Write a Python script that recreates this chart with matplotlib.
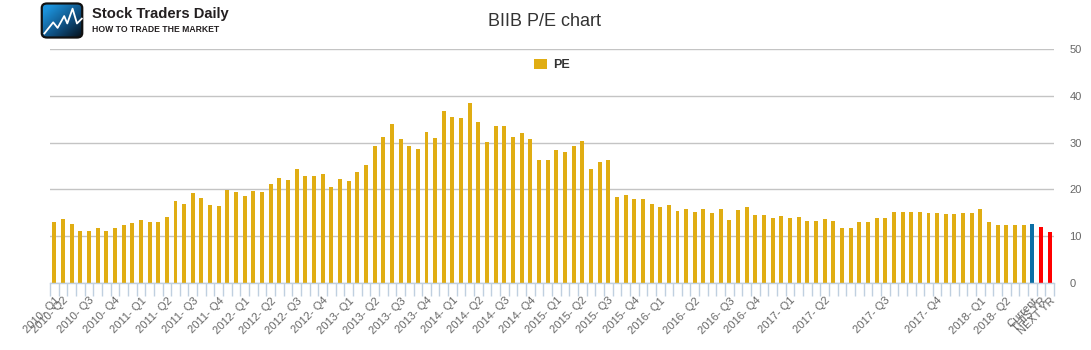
import numpy as np
import matplotlib
matplotlib.use('Agg')
from matplotlib import pyplot as plt
from matplotlib.patches import FancyBboxPatch
from matplotlib.colors import LinearSegmentedColormap

plt.rcParams['font.family'] = ['Liberation Sans', 'DejaVu Sans']

# PE history, one bar per month
pe = [13.0, 13.7, 12.6, 11.1, 11.1, 11.8, 11.1, 11.8, 12.4, 12.8,
      13.5, 13.0, 13.0, 14.1, 17.5, 16.9, 19.2, 18.2, 16.7, 16.5,
      19.9, 19.4, 18.6, 19.6, 19.4, 21.1, 22.4, 22.0, 24.3, 22.8,
      22.8, 23.3, 20.5, 22.2, 21.8, 23.7, 25.2, 29.2, 31.3, 33.9,
      30.7, 29.2, 28.6, 32.2, 30.9, 36.7, 35.4, 35.2, 38.4, 34.5,
      30.1, 33.5, 33.5, 31.3, 32.0, 30.7, 26.2, 26.2, 28.4, 27.9,
      29.2, 30.3, 24.3, 25.8, 26.2, 18.4, 18.8, 17.9, 17.9, 16.9,
      16.2, 16.7, 15.4, 15.8, 15.2, 15.8, 15.0, 15.8, 13.5, 15.6,
      16.2, 14.5, 14.5, 13.9, 14.3, 13.9, 14.1, 13.3, 13.3, 13.7,
      13.3, 11.8, 11.8, 13.0, 13.0, 13.9, 13.9, 15.2, 15.2, 15.2,
      15.2, 15.0, 15.0, 14.8, 14.8, 15.0, 15.0, 15.8, 13.0, 12.4,
      12.4, 12.4, 12.4]
current_pe = [12.6]
forward_pe = [12.0, 10.9]   # THIS YR, NEXT YR

# bar index (0 based) -> label
tick_idx = [0, 1, 4, 7, 10, 13, 16, 19, 22, 25, 28, 31, 34, 37, 40, 43, 46,
            49, 52, 55, 58, 61, 64, 67, 70, 74, 78, 81, 85, 89, 96, 102, 107,
            110, 113, 114, 115]
tick_text = ['2010- Q1', '2010- Q2', '2010- Q3', '2010- Q4',
             '2011- Q1', '2011- Q2', '2011- Q3', '2011- Q4',
             '2012- Q1', '2012- Q2', '2012- Q3', '2012- Q4',
             '2013- Q1', '2013- Q2', '2013- Q3', '2013- Q4',
             '2014- Q1', '2014- Q2', '2014- Q3', '2014- Q4',
             '2015- Q1', '2015- Q2', '2015- Q3', '2015- Q4',
             '2016- Q1', '2016- Q2', '2016- Q3', '2016- Q4',
             '2017- Q1', '2017- Q2', '2017- Q3', '2017- Q4',
             '2018- Q1', '2018- Q2', 'Current', 'THIS YR', 'NEXT YR']

gold = '#e0ad13'
blue = '#0b6fa6'
red = '#ff0000'
grey = '#666666'

values = pe + current_pe + forward_pe
colors = [gold] * len(pe) + [blue] * len(current_pe) + [red] * len(forward_pe)
n = len(values)
x = np.arange(n)

fig = plt.figure(figsize=(10.91, 3.5), dpi=100)
ax = fig.add_axes([50 / 1091, 67 / 350, 1004 / 1091, 234 / 350])

ax.bar(x, values, width=0.46, color=colors, zorder=2)
ax.bar([0], [0], color=gold, label='PE')  # legend handle only

ax.set_xlim(-0.5, n - 0.5)
ax.set_ylim(0, 50)
ax.set_yticks([0, 10, 20, 30, 40, 50])
ax.yaxis.tick_right()
ax.tick_params(axis='y', length=0, pad=11, labelsize=8, labelcolor=grey)
ax.grid(axis='y', color='#c4c4c4', linewidth=1, zorder=0)
ax.set_axisbelow(True)

ax.set_xticks(tick_idx)
ax.set_xticklabels(tick_text, rotation=45, ha='right', va='top',
                   rotation_mode='anchor', fontsize=8, color=grey)
ax.tick_params(axis='x', which='major', length=0, pad=9)
ax.set_xticks(np.arange(-0.5, n), minor=True)
ax.tick_params(axis='x', which='minor', length=9, width=1, color='#c0d0e0')

for s in ['top', 'left', 'right']:
    ax.spines[s].set_visible(False)
ax.spines['bottom'].set_color('#c0d0e0')
ax.spines['bottom'].set_linewidth(1)

fig.text(545 / 1091, 1 - 22 / 350, 'BIIB P/E chart', ha='center', va='center',
         fontsize=13, color='#333333')
leg = ax.legend(loc='upper center', bbox_to_anchor=(0.5, 0.995), frameon=False,
                handlelength=1.1, handleheight=0.9, handletextpad=0.5,
                prop={'size': 9, 'weight': 'bold'}, borderaxespad=0.3)
for t in leg.get_texts():
    t.set_color('#333333')

# logo
lax = fig.add_axes([40 / 1091, 1 - 39 / 350, 44 / 1091, 37 / 350])
gx, gy = np.meshgrid(np.linspace(0, 1, 60), np.linspace(0, 1, 60))
grad = np.clip(1.0 - 0.6 * gx - 0.6 * gy + 0.2, 0, 1)
cm = LinearSegmentedColormap.from_list('logo', ['#050a10', '#0f4f80', '#1c93dc'])
im = lax.imshow(grad, cmap=cm, extent=[0, 1, 0, 1], origin='upper', aspect='auto')
box = FancyBboxPatch((0.04, 0.04), 0.92, 0.92, boxstyle='round,pad=0,rounding_size=0.12',
                     fc='none', ec='#111111', lw=1.6, transform=lax.transAxes)
lax.add_patch(box)
im.set_clip_path(box)
zx = [0.1, 0.3, 0.4, 0.55, 0.62, 0.74, 0.84, 0.95]
zy = [0.15, 0.45, 0.3, 0.62, 0.42, 0.82, 0.42, 0.55]
lax.plot(zx, zy, color='white', lw=1.3)
lax.set_xlim(0, 1)
lax.set_ylim(0, 1)
lax.axis('off')

fig.text(92 / 1091, 1 - 14 / 350, 'Stock Traders Daily', ha='left', va='center',
         fontsize=10.6, fontweight='bold', color='#231f20')
fig.text(92 / 1091, 1 - 29 / 350, 'HOW TO TRADE THE MARKET', ha='left', va='center',
         fontsize=6.2, fontweight='bold', color='#231f20')

plt.savefig('out.png', dpi=100)
